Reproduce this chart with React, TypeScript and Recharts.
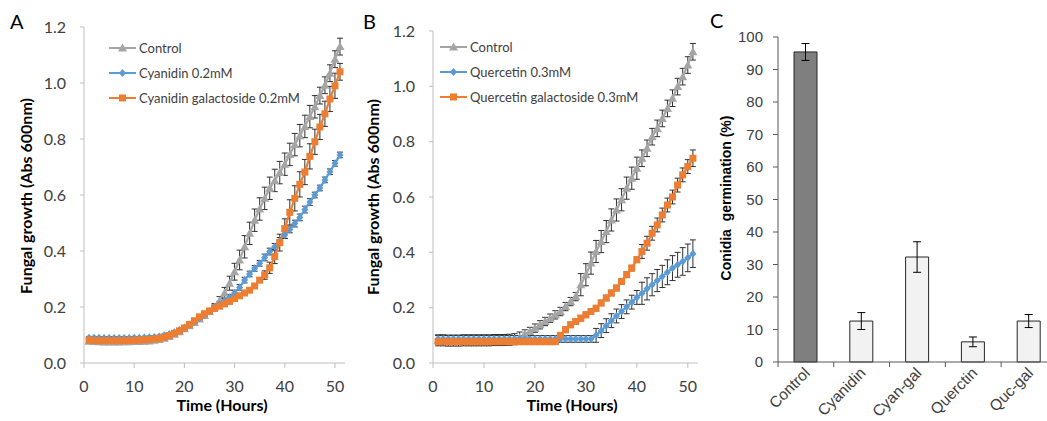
import React from 'react';
import { LineChart, Line, XAxis, YAxis, ErrorBar, BarChart, Bar, Cell } from 'recharts';

// sampling times (hours)
const hours = [
  1, 2, 3, 4, 5, 6, 7, 8, 9, 10,
  11, 12, 13, 14, 15, 16, 17, 18, 19, 20,
  21, 22, 23, 24, 25, 26, 27, 28, 29, 30,
  31, 32, 33, 34, 35, 36, 37, 38, 39, 40,
  41, 42, 43, 44, 45, 46, 47, 48, 49, 50,
  51,
];

// panel A
const ctrlA = [
  0.078, 0.077, 0.076, 0.075, 0.075, 0.075, 0.075, 0.076, 0.076, 0.077,
  0.077, 0.078, 0.079, 0.081, 0.084, 0.088, 0.095, 0.103, 0.112, 0.122,
  0.133, 0.145, 0.157, 0.170, 0.184, 0.200, 0.222, 0.250, 0.285, 0.326,
  0.368, 0.415, 0.463, 0.510, 0.550, 0.588, 0.624, 0.652, 0.680, 0.710,
  0.745, 0.780, 0.812, 0.845, 0.880, 0.915, 0.955, 0.992, 1.035, 1.085,
  1.130,
];
const ctrlAErr = [
  0.006, 0.006, 0.006, 0.006, 0.006, 0.006, 0.006, 0.006, 0.006, 0.006,
  0.006, 0.006, 0.006, 0.006, 0.006, 0.006, 0.006, 0.006, 0.006, 0.006,
  0.006, 0.006, 0.006, 0.006, 0.006, 0.012, 0.015, 0.02, 0.025, 0.03,
  0.035, 0.04, 0.04, 0.04, 0.04, 0.04, 0.04, 0.04, 0.04, 0.04,
  0.04, 0.04, 0.04, 0.04, 0.04, 0.04, 0.03, 0.03, 0.03, 0.03,
  0.03,
];
const cyA = [
  0.090, 0.090, 0.090, 0.089, 0.089, 0.089, 0.089, 0.089, 0.089, 0.090,
  0.090, 0.091, 0.092, 0.093, 0.095, 0.099, 0.104, 0.110, 0.118, 0.127,
  0.137, 0.148, 0.160, 0.172, 0.184, 0.197, 0.210, 0.222, 0.235, 0.250,
  0.270, 0.296, 0.318, 0.338, 0.356, 0.377, 0.398, 0.415, 0.436, 0.457,
  0.477, 0.498, 0.520, 0.548, 0.575, 0.600, 0.625, 0.654, 0.683, 0.713,
  0.743,
];
const cyAErr = [
  0.004, 0.004, 0.004, 0.004, 0.004, 0.004, 0.004, 0.004, 0.004, 0.004,
  0.004, 0.004, 0.004, 0.004, 0.004, 0.004, 0.004, 0.004, 0.004, 0.004,
  0.004, 0.004, 0.004, 0.004, 0.004, 0.01, 0.01, 0.01, 0.01, 0.01,
  0.01, 0.01, 0.01, 0.01, 0.01, 0.012, 0.012, 0.012, 0.012, 0.012,
  0.012, 0.012, 0.012, 0.012, 0.012, 0.01, 0.01, 0.01, 0.01, 0.01,
  0.01,
];
const cygA = [
  0.082, 0.081, 0.080, 0.080, 0.080, 0.080, 0.080, 0.080, 0.081, 0.081,
  0.082, 0.083, 0.084, 0.086, 0.088, 0.092, 0.098, 0.106, 0.115, 0.125,
  0.138, 0.151, 0.165, 0.176, 0.186, 0.195, 0.203, 0.211, 0.220, 0.230,
  0.240, 0.250, 0.260, 0.275, 0.296, 0.314, 0.340, 0.380, 0.430, 0.480,
  0.538, 0.588, 0.638, 0.682, 0.738, 0.790, 0.843, 0.890, 0.943, 0.990,
  1.040,
];
const cygAErr = [
  0.004, 0.004, 0.004, 0.004, 0.004, 0.004, 0.004, 0.004, 0.004, 0.004,
  0.004, 0.004, 0.004, 0.004, 0.004, 0.004, 0.004, 0.004, 0.004, 0.004,
  0.004, 0.004, 0.004, 0.004, 0.004, 0.008, 0.008, 0.008, 0.008, 0.008,
  0.008, 0.008, 0.008, 0.008, 0.008, 0.015, 0.02, 0.025, 0.03, 0.035,
  0.045, 0.045, 0.045, 0.045, 0.045, 0.045, 0.045, 0.045, 0.045, 0.045,
  0.03,
];

// panel B
const ctrlB = [
  0.082, 0.082, 0.081, 0.081, 0.081, 0.082, 0.082, 0.082, 0.082, 0.082,
  0.082, 0.083, 0.083, 0.083, 0.084, 0.086, 0.092, 0.105, 0.114, 0.126,
  0.138, 0.150, 0.162, 0.174, 0.186, 0.204, 0.222, 0.240, 0.283, 0.319,
  0.361, 0.403, 0.439, 0.475, 0.517, 0.553, 0.590, 0.632, 0.668, 0.704,
  0.740, 0.776, 0.818, 0.848, 0.884, 0.920, 0.957, 0.999, 1.035, 1.077,
  1.125,
];
const ctrlBErr = [
  0.02, 0.02, 0.02, 0.02, 0.02, 0.02, 0.02, 0.02, 0.02, 0.02,
  0.02, 0.02, 0.02, 0.02, 0.02, 0.02, 0.02, 0.015, 0.015, 0.015,
  0.015, 0.015, 0.015, 0.015, 0.015, 0.015, 0.015, 0.015, 0.04, 0.04,
  0.04, 0.04, 0.04, 0.04, 0.04, 0.04, 0.04, 0.04, 0.04, 0.04,
  0.03, 0.03, 0.03, 0.03, 0.03, 0.03, 0.03, 0.03, 0.03, 0.03,
  0.03,
];
const quB = [
  0.087, 0.087, 0.087, 0.087, 0.087, 0.087, 0.087, 0.087, 0.087, 0.087,
  0.087, 0.087, 0.087, 0.087, 0.087, 0.087, 0.087, 0.087, 0.087, 0.087,
  0.087, 0.087, 0.087, 0.087, 0.087, 0.087, 0.087, 0.087, 0.087, 0.087,
  0.087, 0.100, 0.117, 0.135, 0.153, 0.170, 0.186, 0.203, 0.220, 0.237,
  0.252, 0.268, 0.283, 0.298, 0.313, 0.328, 0.343, 0.355, 0.367, 0.380,
  0.395,
];
const quBErr = [
  0.012, 0.012, 0.012, 0.012, 0.012, 0.012, 0.012, 0.012, 0.012, 0.012,
  0.012, 0.012, 0.012, 0.012, 0.012, 0.012, 0.012, 0.012, 0.012, 0.012,
  0.012, 0.012, 0.012, 0.012, 0.012, 0.012, 0.012, 0.012, 0.012, 0.012,
  0.012, 0.025, 0.025, 0.025, 0.025, 0.025, 0.025, 0.025, 0.025, 0.025,
  0.04, 0.04, 0.04, 0.04, 0.04, 0.045, 0.045, 0.045, 0.05, 0.05,
  0.05,
];
const qugB = [
  0.077, 0.077, 0.077, 0.077, 0.077, 0.077, 0.077, 0.077, 0.077, 0.077,
  0.077, 0.077, 0.077, 0.077, 0.077, 0.077, 0.077, 0.077, 0.077, 0.077,
  0.077, 0.077, 0.077, 0.077, 0.100, 0.120, 0.138, 0.150, 0.162, 0.174,
  0.186, 0.198, 0.217, 0.235, 0.253, 0.271, 0.295, 0.319, 0.343, 0.373,
  0.403, 0.433, 0.469, 0.499, 0.535, 0.571, 0.600, 0.643, 0.680, 0.710,
  0.740,
];
const qugBErr = [
  0.003, 0.003, 0.003, 0.003, 0.003, 0.003, 0.003, 0.003, 0.003, 0.003,
  0.003, 0.003, 0.003, 0.003, 0.003, 0.003, 0.003, 0.003, 0.003, 0.003,
  0.003, 0.003, 0.003, 0.003, 0.01, 0.01, 0.01, 0.01, 0.01, 0.01,
  0.01, 0.01, 0.01, 0.01, 0.01, 0.01, 0.01, 0.01, 0.01, 0.01,
  0.025, 0.025, 0.025, 0.025, 0.025, 0.025, 0.025, 0.025, 0.025, 0.025,
  0.03,
];

// panel C
const treatments = ['Control', 'Cyanidin', 'Cyan-gal', 'Querctin', 'Quc-gal'];
const germination = [95.4, 12.6, 32.3, 6.2, 12.6];
const germinationErr = [2.6, 2.6, 4.7, 1.5, 2.0];

const xTicks = [0, 10, 20, 30, 40, 50];
const yTicks = [0, 0.2, 0.4, 0.6, 0.8, 1.0, 1.2];
const cTicks = [0, 10, 20, 30, 40, 50, 60, 70, 80, 90, 100];

const GRAY = '#a5a5a5';
const BLUE = '#5b9bd5';
const ORANGE = '#ed7d31';
const AXIS = '#bfbfbf';
const TXT = '#404040';
const FONT = 'Lato, "Open Sans", sans-serif';
const ARIAL = '"Liberation Sans", Arial, sans-serif';

const rowsA = hours.map((t, i) => ({
  t,
  ctrl: ctrlA[i], ctrlErr: ctrlAErr[i],
  cy: cyA[i], cyErr: cyAErr[i],
  cyg: cygA[i], cygErr: cygAErr[i],
}));
const rowsB = hours.map((t, i) => ({
  t,
  ctrl: ctrlB[i], ctrlErr: ctrlBErr[i],
  cy: quB[i], cyErr: quBErr[i],
  cyg: qugB[i], cygErr: qugBErr[i],
}));
const rowsC = treatments.map((name, i) => ({ name, v: germination[i], err: germinationErr[i] }));

const Tri = ({ cx, cy }: any) => (
  <path d={`M${cx},${cy - 4.5}L${cx + 4.5},${cy + 3.5}L${cx - 4.5},${cy + 3.5}Z`} fill={GRAY} />
);
const Dia = ({ cx, cy }: any) => (
  <path d={`M${cx},${cy - 4}L${cx + 3.5},${cy}L${cx},${cy + 4}L${cx - 3.5},${cy}Z`} fill={BLUE} />
);
const Sq = ({ cx, cy }: any) => <rect x={cx - 3.5} y={cy - 3.5} width={7} height={7} fill={ORANGE} />;

const dotOf = (Shape: any, tag: string) => (p: any) =>
  p.cx == null ? <g key={tag + p.index} /> : <Shape key={tag + p.index} cx={p.cx} cy={p.cy} />;

const LegendBox = ({ left, top, names }: any) => {
  const items = [
    { name: names[0], color: GRAY, Shape: Tri },
    { name: names[1], color: BLUE, Shape: Dia },
    { name: names[2], color: ORANGE, Shape: Sq },
  ];
  return (
    <div style={{ position: 'absolute', left, top, fontFamily: FONT, fontSize: 13, color: TXT }}>
      {items.map((it) => (
        <div key={it.name} style={{ display: 'flex', alignItems: 'center', height: 25, whiteSpace: 'nowrap' }}>
          <svg width={30} height={12} style={{ display: 'block' }}>
            <line x1={0} y1={6} x2={27} y2={6} stroke={it.color} strokeWidth={2} />
            <it.Shape cx={13.5} cy={6} />
          </svg>
          <span>{it.name}</span>
        </div>
      ))}
    </div>
  );
};

const GrowthChart = ({ rows, width, yWidth, right, top }: any) => (
  <LineChart width={width} height={421} data={rows} margin={{ top, right, left: 0, bottom: 0 }}>
    <XAxis
      dataKey="t" type="number" domain={[0, 52]} ticks={xTicks} height={58}
      stroke={AXIS} tickSize={5} tickMargin={13}
      tick={{ fill: TXT, fontSize: 16, fontFamily: FONT }}
    />
    <YAxis
      type="number" domain={[0, 1.2]} ticks={yTicks} width={yWidth}
      stroke={AXIS} tickSize={4} tickMargin={14}
      tickFormatter={(v: number) => v.toFixed(1)}
      tick={{ fill: TXT, fontSize: 16, fontFamily: FONT }}
    />
    <Line dataKey="ctrl" stroke={GRAY} strokeWidth={2.2} dot={dotOf(Tri, 'a')} activeDot={false} isAnimationActive={false}>
      <ErrorBar dataKey="ctrlErr" width={3} stroke="#303030" strokeWidth={1} direction="y" />
    </Line>
    <Line dataKey="cy" stroke={BLUE} strokeWidth={2.2} dot={dotOf(Dia, 'b')} activeDot={false} isAnimationActive={false}>
      <ErrorBar dataKey="cyErr" width={3} stroke="#303030" strokeWidth={1} direction="y" />
    </Line>
    <Line dataKey="cyg" stroke={ORANGE} strokeWidth={2.2} dot={dotOf(Sq, 'c')} activeDot={false} isAnimationActive={false}>
      <ErrorBar dataKey="cygErr" width={3} stroke="#303030" strokeWidth={1} direction="y" />
    </Line>
  </LineChart>
);

const HALF_BAND = 278.5 / 5 / 2;
const CatTick = ({ x, y, payload, index }: any) => {
  const ay = y - 7;
  return (
    <g>
      {index === 0 && <line x1={x - HALF_BAND} y1={ay} x2={x - HALF_BAND} y2={ay + 5} stroke="#595959" />}
      <line x1={x + HALF_BAND} y1={ay} x2={x + HALF_BAND} y2={ay + 5} stroke="#595959" />
      <text
        x={x + 5} y={y + 5} transform={`rotate(-45 ${x + 5} ${y + 5})`}
        textAnchor="end" fontSize={15.5} fill={TXT} fontFamily={ARIAL}
      >
        {payload.value}
      </text>
    </g>
  );
};

export default function App() {
  return (
    <div style={{ position: 'fixed', left: 0, top: 0, width: 1047, height: 421, overflow: 'hidden', background: '#fff' }}>
      <div style={{ position: 'absolute', left: 0, top: 0 }}>
        <GrowthChart rows={rowsA} width={360} yWidth={84} right={15} top={27} />
      </div>
      <div style={{ position: 'absolute', left: 360, top: 0 }}>
        <GrowthChart rows={rowsB} width={345} yWidth={73} right={7} top={31} />
      </div>
      <div style={{ position: 'absolute', left: 690, top: 0 }}>
        <BarChart width={367} height={421} data={rowsC} margin={{ top: 37, right: 0, left: 0, bottom: 0 }}>
          <XAxis dataKey="name" height={59} stroke="#595959" tickLine={false} interval={0} tick={<CatTick />} tickSize={5} tickMargin={2} />
          <YAxis
            type="number" domain={[0, 100]} ticks={cTicks} width={88} stroke="#595959"
            tickSize={5} tickMargin={10} tick={{ fill: TXT, fontSize: 15, fontFamily: ARIAL }}
          />
          <Bar dataKey="v" barSize={23} stroke="#262626" strokeWidth={1} isAnimationActive={false}>
            {rowsC.map((r, i) => (
              <Cell key={r.name} fill={i === 0 ? '#7f7f7f' : '#f2f2f2'} />
            ))}
            <ErrorBar dataKey="err" width={4} stroke="#000" strokeWidth={1} direction="y" />
          </Bar>
        </BarChart>
      </div>
      <LegendBox left={109} top={35} names={['Control', 'Cyanidin 0.2mM', 'Cyanidin galactoside 0.2mM']} />
      <LegendBox left={440} top={34} names={['Control', 'Quercetin 0.3mM', 'Quercetin galactoside 0.3mM']} />
      <svg width={1047} height={421} style={{ position: 'absolute', left: 0, top: 0, pointerEvents: 'none' }}>
        <g fontFamily={FONT} fontSize={20} fill="#000">
          <text x={10} y={29}>A</text>
          <text x={363} y={29}>B</text>
          <text x={710} y={28}>C</text>
        </g>
        <g fontFamily={FONT} fontSize={16} fontWeight="bold" fill="#000" textAnchor="middle">
          <text x={222} y={411}>Time (Hours)</text>
          <text x={572} y={411}>Time (Hours)</text>
          <text transform="translate(32 196) rotate(-90)">Fungal growth (Abs 600nm)</text>
          <text transform="translate(379 197) rotate(-90)">Fungal growth (Abs 600nm)</text>
        </g>
        <text
          transform="translate(731 198) rotate(-90)" textAnchor="middle" fontFamily={ARIAL}
          fontSize={14} fontWeight="bold" fill="#000" style={{ whiteSpace: 'pre' }}
        >
          {'Conidia  germination (%)'}
        </text>
      </svg>
    </div>
  );
}
